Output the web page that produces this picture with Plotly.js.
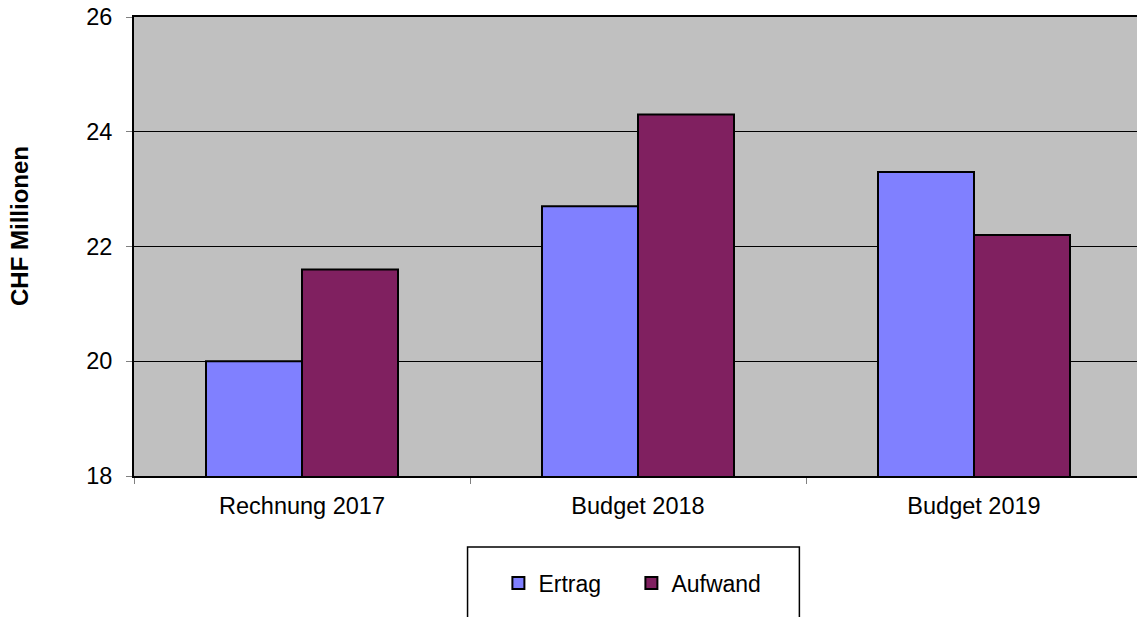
<!DOCTYPE html>
<html>
<head>
<meta charset="utf-8">
<script src="https://cdn.plot.ly/plotly-3.0.1.min.js"></script>
<style>
html,body{margin:0;padding:0;overflow:hidden;background:#fff;}
#chart{width:1150px;height:650px;}
</style>
</head>
<body>
<div id="chart"></div>
<script>
const categories = ["Rechnung 2017", "Budget 2018", "Budget 2019"];
const ertrag = [20.0, 22.7, 23.3];
const aufwand = [21.6, 24.3, 22.2];
const seriesNames = ["Ertrag", "Aufwand"];
const yTitle = "CHF Millionen";

const font = "Arial, 'Liberation Sans', sans-serif";

const traces = [
  {type: "bar", name: seriesNames[0], x: categories, y: ertrag,
   marker: {color: "#8080FF", line: {color: "#000", width: 2}}},
  {type: "bar", name: seriesNames[1], x: categories, y: aufwand,
   marker: {color: "#802060", line: {color: "#000", width: 2}}}
];

const layout = {
  width: 1150, height: 650,
  margin: {l: 134, r: 8, t: 17, b: 174},
  paper_bgcolor: "#fff",
  plot_bgcolor: "#C0C0C0",
  font: {family: font, size: 23.5, color: "#000"},
  barmode: "group",
  bargap: 0.4286,
  bargroupgap: 0,
  showlegend: true,
  legend: {orientation: "h", x: 0.3615, xanchor: "left", y: -0.2331, yanchor: "middle",
           font: {family: font, size: 23, color: "#000"},
           bgcolor: "rgba(0,0,0,0)", borderwidth: 0, entrywidth: 88},
  xaxis: {type: "category", showgrid: false, zeroline: false,
          showline: true, linecolor: "#000", linewidth: 2, mirror: true,
          ticks: "outside", tickson: "boundaries", ticklen: 6, tickcolor: "#808080", tickwidth: 1,
          ticklabelstandoff: 8,
          tickfont: {family: font, size: 23.5, color: "#000"}},
  yaxis: {range: [18, 26], dtick: 2, tick0: 18, showgrid: true, gridcolor: "#000", gridwidth: 1,
          zeroline: false, showline: true, linecolor: "#000", linewidth: 2, mirror: true,
          ticks: "outside", ticklen: 6, tickcolor: "#808080", tickwidth: 1,
          ticklabelstandoff: 9,
          tickfont: {family: font, size: 23.5, color: "#000"}},
  shapes: [
    {type: "rect", xref: "paper", yref: "paper", x0: 0.3309, x1: 0.6601, y0: -0.36, y1: -0.1547,
     line: {color: "#000", width: 1.5}, fillcolor: "rgba(0,0,0,0)", layer: "above"}
  ],
  annotations: [
    {text: "<b>" + yTitle + "</b>", xref: "paper", yref: "paper",
     x: (19 - 134) / 1008, y: (476 - 226) / 459, textangle: -90, showarrow: false,
     font: {family: font, size: 24, color: "#000"}, xanchor: "center", yanchor: "middle"}
  ]
};

Plotly.newPlot("chart", traces, layout, {displayModeBar: false, staticPlot: true});
</script>
</body>
</html>
